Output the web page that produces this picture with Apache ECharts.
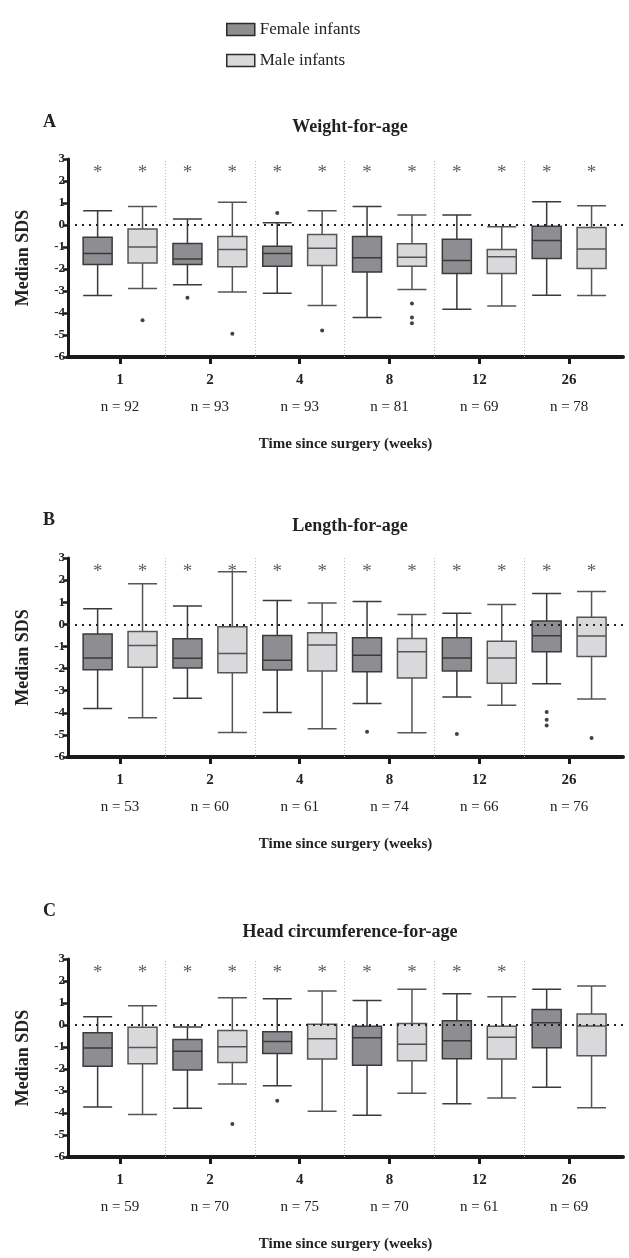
<!DOCTYPE html>
<html><head><meta charset="utf-8">
<script src="https://cdn.jsdelivr.net/npm/echarts@6/dist/echarts.min.js"></script>
<style>html,body{margin:0;padding:0;background:#fff}#c{width:629px;height:1258px}</style>
</head><body><div id="c"></div>
<script>
const weeks = ['1','2','4','8','12','26'];
const panelLetters = ['A','B','C'];
const panelTitles = ['Weight-for-age','Length-for-age','Head circumference-for-age'];
const nA = [92,93,93,81,69,78];
const nB = [53,60,61,74,66,76];
const nC = [59,70,75,70,61,69];
// [min, Q1, median, Q3, max]
const femaleA = [[-3.2,-1.79,-1.29,-0.56,0.65],[-2.72,-1.79,-1.55,-0.84,0.27],[-3.1,-1.87,-1.29,-0.97,0.1],[-4.21,-2.14,-1.49,-0.52,0.84],[-3.83,-2.2,-1.61,-0.65,0.46],[-3.19,-1.52,-0.71,-0.06,1.06]];
const maleA = [[-2.89,-1.73,-1.0,-0.18,0.84],[-3.04,-1.9,-1.11,-0.52,1.03],[-3.66,-1.84,-1.06,-0.43,0.65],[-2.93,-1.87,-1.47,-0.85,0.46],[-3.68,-2.2,-1.44,-1.11,-0.08],[-3.2,-1.98,-1.09,-0.11,0.88]];
const femaleB = [[-3.81,-2.05,-1.52,-0.44,0.7],[-3.34,-1.97,-1.53,-0.65,0.83],[-3.99,-2.06,-1.62,-0.5,1.08],[-3.58,-2.15,-1.4,-0.61,1.03],[-3.29,-2.11,-1.52,-0.61,0.5],[-2.69,-1.24,-0.52,0.15,1.4]];
const maleB = [[-4.22,-1.94,-0.96,-0.32,1.84],[-4.89,-2.19,-1.32,-0.11,2.38],[-4.72,-2.11,-0.93,-0.38,0.96],[-4.9,-2.43,-1.24,-0.64,0.44],[-3.66,-2.66,-1.52,-0.76,0.9],[-3.38,-1.46,-0.53,0.32,1.49]];
const femaleC = [[-3.73,-1.87,-1.05,-0.35,0.37],[-3.78,-2.04,-1.19,-0.66,-0.09],[-2.76,-1.3,-0.75,-0.31,1.19],[-4.1,-1.83,-0.58,-0.06,1.11],[-3.58,-1.53,-0.72,0.19,1.42],[-2.83,-1.03,0.1,0.71,1.62]];
const maleC = [[-4.07,-1.76,-1.02,-0.1,0.88],[-2.68,-1.71,-0.99,-0.25,1.24],[-3.92,-1.55,-0.63,0.03,1.55],[-3.1,-1.62,-0.87,0.07,1.62],[-3.32,-1.55,-0.56,-0.06,1.28],[-3.76,-1.4,-0.04,0.5,1.77]];
// outliers: [group index, value]
const outFemaleA = [[1,-3.31],[2,0.55]];
const outMaleA = [[0,-4.33],[1,-4.94],[2,-4.79],[3,-3.57],[3,-4.21],[3,-4.47]];
const outFemaleB = [[3,-4.86],[4,-4.96],[5,-3.96],[5,-4.32],[5,-4.58]];
const outMaleB = [[5,-5.14]];
const outFemaleC = [[2,-3.44]];
const outMaleC = [[1,-4.5]];
// significance asterisks (1 = shown)
const sigFemaleA = [1,1,1,1,1,1], sigMaleA = [1,1,1,1,1,1];
const sigFemaleB = [1,1,1,1,1,1], sigMaleB = [1,1,1,1,1,1];
const sigFemaleC = [1,1,1,1,1,0], sigMaleC = [1,1,1,1,1,0];

const panels = [
  {n:nA, f:femaleA, m:maleA, of:outFemaleA, om:outMaleA, sf:sigFemaleA, sm:sigMaleA},
  {n:nB, f:femaleB, m:maleB, of:outFemaleB, om:outMaleB, sf:sigFemaleB, sm:sigMaleB},
  {n:nC, f:femaleC, m:maleC, of:outFemaleC, om:outMaleC, sf:sigFemaleC, sm:sigMaleC}
];
const FONT = 'Liberation Serif';
const gridTops = [159, 558, 959];
const gridHeights = [198, 199, 198];
const letterTops = [108, 506, 897];
const titleTops = [113, 512, 918];
const centers = weeks.map((w,i)=>2*i+0.5);
const seps = weeks.slice(1).map((w,i)=>2*i+1.5);
const FEM = {color:'#8e8e92', borderColor:'#3a3a3a', borderWidth:1.5};
const MAL = {color:'#d9d9db', borderColor:'#555555', borderWidth:1.5};

const grid=[], xAxis=[], yAxis=[], series=[], title=[];
panels.forEach((p, k) => {
  grid.push({left:68, width:555, top:gridTops[k], height:gridHeights[k]});
  title.push({text:panelLetters[k], left:38, top:letterTops[k], textStyle:{fontFamily:FONT, fontWeight:'bold', fontSize:18, color:'#222'}});
  title.push({text:panelTitles[k], left:345, textAlign:'center', top:titleTops[k], textStyle:{fontFamily:FONT, fontWeight:'bold', fontSize:18, color:'#222'}});
  const nArr = p.n;
  xAxis.push({
    type:'value', gridIndex:k, min:-0.66, max:11.7,
    axisLine:{show:true, onZero:false, lineStyle:{color:'#1a1a1a', width:4}},
    axisTick:{show:true, length:7, customValues:centers, lineStyle:{color:'#1a1a1a', width:3}},
    axisLabel:{show:true, customValues:centers, margin:11,
      formatter:(v)=>{const i=Math.round((v-0.5)/2); return '{b|'+weeks[i]+'}\n{n|n = '+nArr[i]+'}';},
      rich:{b:{fontFamily:FONT, fontWeight:'bold', fontSize:15, color:'#222', lineHeight:24},
            n:{fontFamily:FONT, fontSize:15, color:'#222', lineHeight:30}}},
    splitLine:{show:false},
    name:'Time since surgery (weeks)', nameLocation:'middle', nameGap:80,
    nameTextStyle:{fontFamily:FONT, fontWeight:'bold', fontSize:15, color:'#222'}
  });
  xAxis.push({type:'value', gridIndex:k, min:-0.66, max:11.7, show:false});
  yAxis.push({
    type:'value', gridIndex:k, min:-6, max:3, interval:1,
    axisLine:{show:true, onZero:false, lineStyle:{color:'#1a1a1a', width:3}},
    axisTick:{show:true, length:5, lineStyle:{color:'#1a1a1a', width:2.5}},
    axisLabel:{fontFamily:FONT, fontWeight:'bold', fontSize:13, color:'#222', margin:3},
    splitLine:{show:false},
    name:'Median SDS', nameLocation:'middle', nameRotate:90, nameGap:36,
    nameTextStyle:{fontFamily:FONT, fontWeight:'bold', fontSize:18, color:'#222'}
  });
  series.push({
    type:'boxplot', name:'Female infants', xAxisIndex:2*k, yAxisIndex:k, layout:'horizontal',
    boxWidth:[29,29], itemStyle:FEM, emphasis:{disabled:true}, silent:true,
    data:p.f.map((b,i)=>[2*i].concat(b)),
    markLine:{silent:true, symbol:['none','none'], label:{show:false},
      lineStyle:{type:[2,5], width:2, color:'#222'}, data:[{yAxis:0}]}
  });
  series.push({
    type:'boxplot', name:'Male infants', xAxisIndex:2*k+1, yAxisIndex:k, layout:'horizontal',
    boxWidth:[29,29], itemStyle:MAL, emphasis:{disabled:true}, silent:true,
    data:p.m.map((b,i)=>[2*i+1].concat(b)),
    markLine:{silent:true, symbol:['none','none'], label:{show:false},
      lineStyle:{type:[1,2], width:1, color:'#bbbbbb'}, data:seps.map(s=>({xAxis:s}))}
  });
  const outs = p.of.map(o=>[2*o[0], o[1]]).concat(p.om.map(o=>[2*o[0]+1, o[1]]));
  series.push({type:'scatter', xAxisIndex:2*k, yAxisIndex:k, symbol:'circle', symbolSize:4, silent:true,
    itemStyle:{color:'#111'}, data:outs});
  const stars = [];
  p.sf.forEach((s,i)=>{ if (s) stars.push([2*i, 2.38]); });
  p.sm.forEach((s,i)=>{ if (s) stars.push([2*i+1, 2.38]); });
  series.push({type:'scatter', xAxisIndex:2*k, yAxisIndex:k, symbolSize:0, silent:true, data:stars,
    label:{show:true, position:'inside', formatter:'*', fontFamily:FONT, fontSize:19, color:'#333'}});
});

const chart = echarts.init(document.getElementById('c'), null, {renderer:'canvas'});
chart.setOption({
  animation:false,
  backgroundColor:'#fff',
  title, grid, xAxis, yAxis, series,
  legend:{
    data:[
      {name:'Female infants', icon:'rect', itemStyle:{color:FEM.color, borderColor:'#2a2a2a', borderWidth:1.5}},
      {name:'Male infants', icon:'rect', itemStyle:{color:MAL.color, borderColor:'#2a2a2a', borderWidth:1.5}}
    ],
    orient:'vertical', left:221, top:16,
    itemWidth:28, itemHeight:12, itemGap:14, selectedMode:false,
    textStyle:{fontFamily:FONT, fontSize:17, color:'#222'}}
});
</script></body></html>
